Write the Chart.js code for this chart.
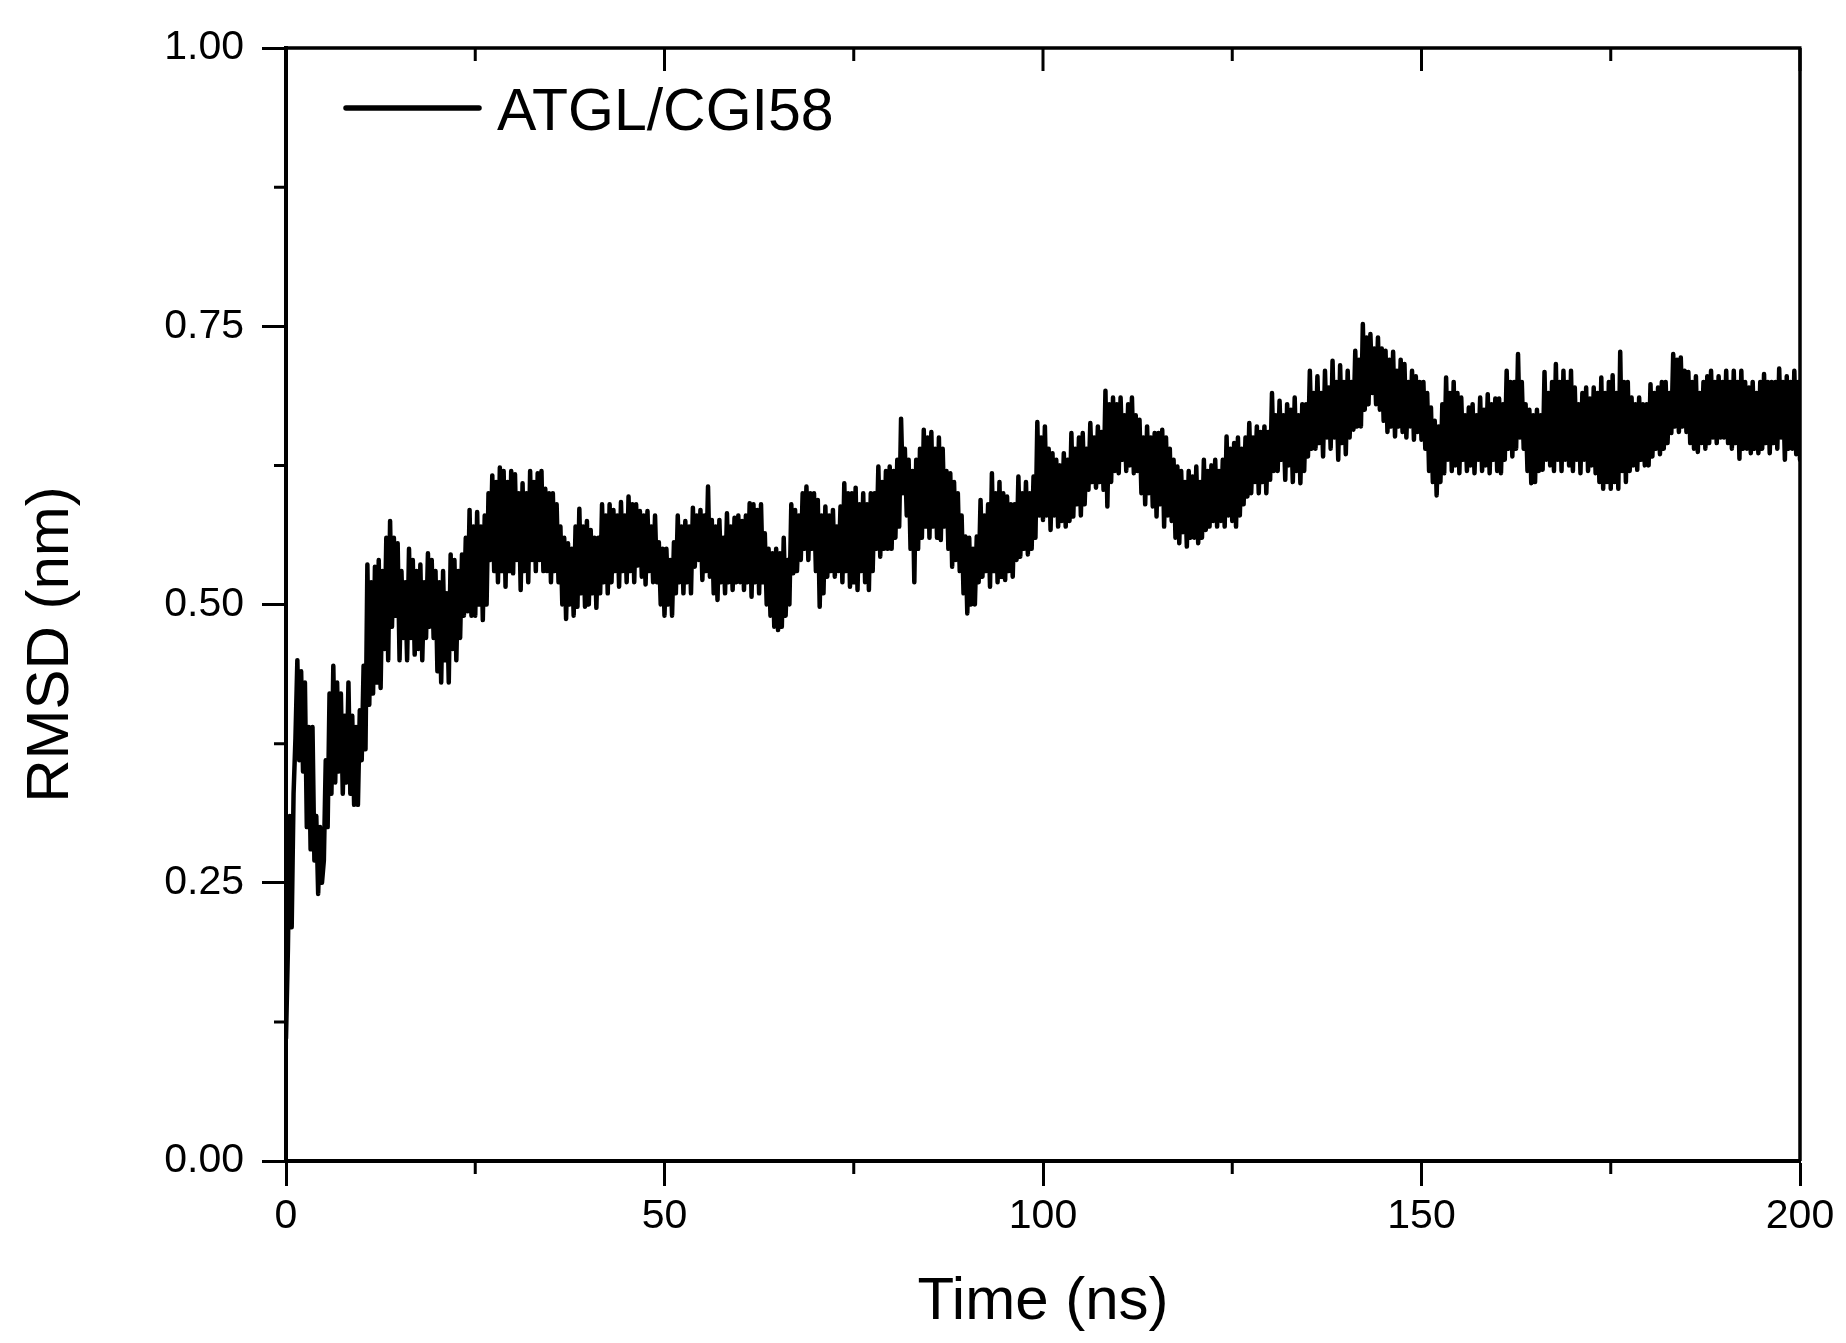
<!DOCTYPE html>
<html>
<head>
<meta charset="utf-8">
<script src="https://cdn.jsdelivr.net/npm/chart.js@4/dist/chart.umd.min.js"></script>
<style>
html,body{margin:0;padding:0;background:#fff;}
#wrap{width:1846px;height:1343px;position:relative;}
</style>
</head>
<body>
<div id="wrap"><canvas id="c"></canvas></div>
<script>
// ---- data (RMSD in nm, sampled every 0.25 ns from 0 to 200 ns; one row = 5 ns) ----
const seriesLabel = 'ATGL/CGI58';
const timeStepNs = 0.25;
const rmsdPart1 = [ // 0 – 49.75 ns
  0.11,0.19,0.31,0.21,0.33,0.38,0.45,0.36,0.44,0.35,0.43,0.30,0.39,0.28,0.39,0.27,0.31,0.24,0.30,0.25,
  0.27,0.36,0.30,0.42,0.33,0.445,0.34,0.43,0.35,0.42,0.33,0.40,0.34,0.43,0.33,0.40,0.32,0.39,0.32,0.405,
  0.36,0.445,0.37,0.536,0.41,0.52,0.42,0.534,0.43,0.54,0.425,0.53,0.46,0.56,0.45,0.575,0.48,0.56,0.49,0.555,
  0.45,0.53,0.47,0.52,0.45,0.55,0.47,0.54,0.455,0.53,0.46,0.536,0.45,0.52,0.47,0.546,0.48,0.54,0.47,0.53,
  0.44,0.52,0.43,0.53,0.45,0.51,0.43,0.545,0.46,0.54,0.45,0.53,0.47,0.545,0.49,0.56,0.494,0.585,0.49,0.57,
  0.49,0.583,0.50,0.57,0.486,0.58,0.50,0.60,0.54,0.616,0.53,0.61,0.52,0.623,0.53,0.62,0.516,0.61,0.53,0.62,
  0.528,0.617,0.54,0.60,0.513,0.609,0.53,0.60,0.52,0.62,0.54,0.61,0.53,0.618,0.54,0.62,0.53,0.604,0.53,0.60,
  0.52,0.60,0.53,0.59,0.52,0.57,0.50,0.56,0.487,0.555,0.50,0.55,0.49,0.57,0.498,0.586,0.51,0.57,0.498,0.575,
  0.50,0.567,0.51,0.56,0.497,0.56,0.51,0.59,0.52,0.58,0.51,0.59,0.52,0.585,0.53,0.58,0.516,0.592,0.53,0.58,
  0.52,0.597,0.53,0.59,0.52,0.59,0.535,0.584,0.525,0.58,0.518,0.584,0.53,0.57,0.52,0.58,0.52,0.556,0.50,0.55
];
const rmsdPart2 = [ // 50 – 99.75 ns
  0.49,0.55,0.50,0.54,0.49,0.556,0.51,0.58,0.52,0.57,0.51,0.575,0.52,0.57,0.51,0.587,0.534,0.58,0.54,0.585,
  0.522,0.58,0.53,0.606,0.525,0.576,0.51,0.57,0.504,0.576,0.52,0.56,0.51,0.582,0.52,0.57,0.513,0.578,0.52,0.58,
  0.52,0.575,0.513,0.58,0.52,0.591,0.507,0.59,0.52,0.585,0.51,0.59,0.52,0.564,0.50,0.55,0.49,0.546,0.48,0.55,
  0.477,0.546,0.48,0.56,0.49,0.54,0.50,0.59,0.528,0.585,0.53,0.58,0.54,0.60,0.55,0.606,0.54,0.60,0.55,0.60,
  0.53,0.594,0.498,0.58,0.51,0.588,0.525,0.58,0.53,0.585,0.525,0.57,0.53,0.588,0.52,0.609,0.53,0.60,0.516,0.60,
  0.52,0.605,0.513,0.59,0.53,0.60,0.52,0.59,0.513,0.60,0.53,0.60,0.55,0.624,0.543,0.61,0.55,0.62,0.55,0.624,
  0.55,0.62,0.56,0.63,0.57,0.667,0.60,0.64,0.58,0.63,0.55,0.62,0.52,0.63,0.55,0.64,0.56,0.657,0.57,0.65,
  0.56,0.655,0.57,0.64,0.56,0.65,0.558,0.64,0.57,0.62,0.55,0.618,0.534,0.61,0.54,0.60,0.53,0.58,0.51,0.561,
  0.492,0.56,0.50,0.55,0.50,0.561,0.52,0.594,0.525,0.58,0.53,0.59,0.516,0.618,0.53,0.60,0.52,0.61,0.525,0.60,
  0.522,0.597,0.53,0.59,0.525,0.59,0.54,0.615,0.543,0.60,0.55,0.61,0.545,0.60,0.55,0.615,0.56,0.664,0.58,0.65
];
const rmsdPart3 = [ // 100 – 149.75 ns
  0.576,0.66,0.58,0.64,0.567,0.636,0.58,0.63,0.57,0.625,0.575,0.636,0.57,0.63,0.575,0.654,0.579,0.64,0.59,0.65,
  0.58,0.654,0.59,0.64,0.603,0.663,0.61,0.65,0.605,0.66,0.61,0.655,0.603,0.692,0.588,0.68,0.61,0.686,0.62,0.68,
  0.618,0.686,0.63,0.67,0.62,0.68,0.625,0.686,0.618,0.67,0.62,0.666,0.60,0.65,0.59,0.66,0.60,0.65,0.588,0.654,
  0.579,0.654,0.59,0.657,0.57,0.65,0.58,0.64,0.575,0.63,0.56,0.624,0.555,0.62,0.565,0.61,0.552,0.62,0.56,0.615,
  0.56,0.624,0.555,0.61,0.56,0.63,0.567,0.62,0.57,0.625,0.575,0.63,0.57,0.62,0.575,0.63,0.57,0.651,0.58,0.64,
  0.575,0.645,0.57,0.65,0.58,0.64,0.59,0.65,0.597,0.663,0.60,0.65,0.61,0.66,0.60,0.655,0.61,0.66,0.60,0.655,
  0.612,0.69,0.62,0.67,0.62,0.683,0.63,0.67,0.612,0.68,0.625,0.675,0.61,0.686,0.62,0.67,0.609,0.68,0.62,0.68,
  0.633,0.71,0.64,0.69,0.64,0.705,0.645,0.69,0.633,0.71,0.65,0.695,0.64,0.719,0.65,0.70,0.63,0.715,0.645,0.70,
  0.635,0.71,0.65,0.70,0.657,0.728,0.66,0.72,0.66,0.752,0.675,0.74,0.68,0.743,0.69,0.73,0.68,0.74,0.675,0.73,
  0.665,0.728,0.655,0.72,0.66,0.727,0.651,0.71,0.66,0.72,0.655,0.716,0.65,0.70,0.66,0.71,0.648,0.705,0.655,0.70
];
const rmsdPart4 = [ // 150 – 200 ns
  0.648,0.70,0.64,0.69,0.62,0.677,0.61,0.665,0.598,0.66,0.61,0.68,0.618,0.704,0.63,0.69,0.62,0.70,0.625,0.69,
  0.618,0.686,0.63,0.67,0.62,0.677,0.625,0.68,0.618,0.67,0.63,0.686,0.62,0.675,0.625,0.689,0.618,0.68,0.63,0.685,
  0.62,0.685,0.618,0.68,0.63,0.71,0.64,0.70,0.633,0.70,0.64,0.725,0.65,0.70,0.64,0.68,0.62,0.675,0.609,0.67,
  0.61,0.675,0.62,0.67,0.621,0.709,0.63,0.69,0.625,0.70,0.62,0.716,0.63,0.70,0.62,0.71,0.63,0.70,0.625,0.71,
  0.62,0.695,0.63,0.68,0.618,0.69,0.63,0.695,0.62,0.685,0.625,0.695,0.618,0.69,0.61,0.704,0.604,0.69,0.61,0.70,
  0.604,0.706,0.61,0.69,0.604,0.727,0.62,0.70,0.61,0.70,0.62,0.686,0.625,0.68,0.621,0.686,0.63,0.68,0.625,0.68,
  0.625,0.698,0.633,0.69,0.64,0.695,0.635,0.70,0.64,0.70,0.645,0.69,0.654,0.725,0.66,0.72,0.655,0.722,0.66,0.71,
  0.655,0.709,0.645,0.70,0.64,0.705,0.637,0.69,0.645,0.70,0.64,0.705,0.645,0.71,0.65,0.70,0.645,0.705,0.65,0.70,
  0.65,0.71,0.645,0.70,0.64,0.71,0.645,0.70,0.631,0.71,0.64,0.70,0.64,0.695,0.636,0.70,0.64,0.69,0.636,0.70,
  0.64,0.707,0.645,0.70,0.636,0.70,0.645,0.70,0.64,0.712,0.65,0.70,0.63,0.705,0.64,0.70,0.64,0.71,0.635,0.70,
  0.63
];
const xMajorTicks = [0, 50, 100, 150, 200];
const xMinorTicks = [25, 75, 125, 175];
const yMajorTicks = [0, 0.25, 0.5, 0.75, 1.0];
const yMinorTicks = [0.125, 0.375, 0.625, 0.875];
const xTitle = 'Time (ns)';
const yTitle = 'RMSD (nm)';

const rmsd = rmsdPart1.concat(rmsdPart2, rmsdPart3, rmsdPart4);
const points = rmsd.map((v, i) => ({x: i * timeStepNs, y: v}));

const FONT = "'Liberation Sans', Arial, sans-serif";

const framePlugin = {
  id: 'frame',
  afterDraw(chart) {
    const ctx = chart.ctx;
    const a = chart.chartArea;
    const xs = chart.scales.x, ys = chart.scales.y;
    ctx.save();
    ctx.strokeStyle = '#000';
    ctx.lineCap = 'butt';
    // top and right frame lines
    ctx.lineWidth = 3.5;
    ctx.beginPath();
    ctx.moveTo(a.left - 2, a.top);
    ctx.lineTo(a.right + 1.5, a.top);
    ctx.moveTo(a.right, a.top);
    ctx.lineTo(a.right, a.bottom);
    ctx.stroke();
    ctx.lineWidth = 3;
    ctx.beginPath();
    // top ticks (inward)
    xMajorTicks.forEach(t => { const p = xs.getPixelForValue(t); ctx.moveTo(p, a.top); ctx.lineTo(p, a.top + 23); });
    xMinorTicks.forEach(t => { const p = xs.getPixelForValue(t); ctx.moveTo(p, a.top); ctx.lineTo(p, a.top + 13); });
    // bottom minor ticks (outward)
    xMinorTicks.forEach(t => { const p = xs.getPixelForValue(t); ctx.moveTo(p, a.bottom); ctx.lineTo(p, a.bottom + 13); });
    // left minor ticks (outward)
    yMinorTicks.forEach(v => { const p = ys.getPixelForValue(v); ctx.moveTo(a.left, p); ctx.lineTo(a.left - 12, p); });
    ctx.stroke();
    // y-axis title (placed slightly below axis centre, as in the original)
    ctx.save();
    ctx.fillStyle = '#000';
    ctx.font = '60px ' + FONT;
    ctx.textAlign = 'center';
    ctx.textBaseline = 'middle';
    ctx.translate(51, (a.top + a.bottom) / 2 + 40);
    ctx.rotate(-Math.PI / 2);
    ctx.fillText(yTitle, 0, 0);
    ctx.restore();
    // legend
    ctx.lineWidth = 5.5;
    ctx.lineCap = 'round';
    ctx.beginPath();
    ctx.moveTo(346, 108);
    ctx.lineTo(479, 108);
    ctx.stroke();
    ctx.fillStyle = '#000';
    ctx.font = '59px ' + FONT;
    ctx.textAlign = 'left';
    ctx.textBaseline = 'alphabetic';
    ctx.fillText(chart.data.datasets[0].label, 497, 130);
    ctx.restore();
  }
};

new Chart(document.getElementById('c'), {
  type: 'line',
  data: {
    datasets: [{
      label: seriesLabel,
      data: points,
      borderColor: '#000',
      backgroundColor: '#000',
      borderWidth: 4.5,
      pointRadius: 0,
      tension: 0,
      borderJoinStyle: 'round',
      borderCapStyle: 'round',
      fill: false
    }]
  },
  options: {
    responsive: true,
    maintainAspectRatio: false,
    devicePixelRatio: 1,
    animation: false,
    layout: { padding: { left: 0, right: 46, top: 48, bottom: 0 } },
    plugins: {
      legend: { display: false },
      tooltip: { enabled: false }
    },
    scales: {
      x: {
        type: 'linear',
        min: 0, max: 200,
        afterFit(s) { s.height = 182; },
        afterBuildTicks(s) { s.ticks = xMajorTicks.map(v => ({value: v})); },
        ticks: { font: { size: 41, family: FONT }, color: '#000', padding: 6, maxRotation: 0 },
        grid: { display: true, drawOnChartArea: false, drawTicks: true, tickLength: 25, tickWidth: 3, tickColor: '#000' },
        border: { display: true, color: '#000', width: 4 },
        title: { display: true, text: xTitle, color: '#000', font: { size: 60, family: FONT }, padding: { top: 0, bottom: 5 } }
      },
      y: {
        type: 'linear',
        min: 0, max: 1,
        afterFit(s) { s.width = 286; },
        afterBuildTicks(s) { s.ticks = yMajorTicks.map(v => ({value: v})); },
        ticks: { font: { size: 41, family: FONT }, color: '#000', padding: 18, callback: v => Number(v).toFixed(2) },
        grid: { display: true, drawOnChartArea: false, drawTicks: true, tickLength: 24, tickWidth: 3, tickColor: '#000' },
        border: { display: true, color: '#000', width: 4 },
        title: { display: false, text: yTitle }
      }
    }
  },
  plugins: [framePlugin]
});
</script>
</body>
</html>
